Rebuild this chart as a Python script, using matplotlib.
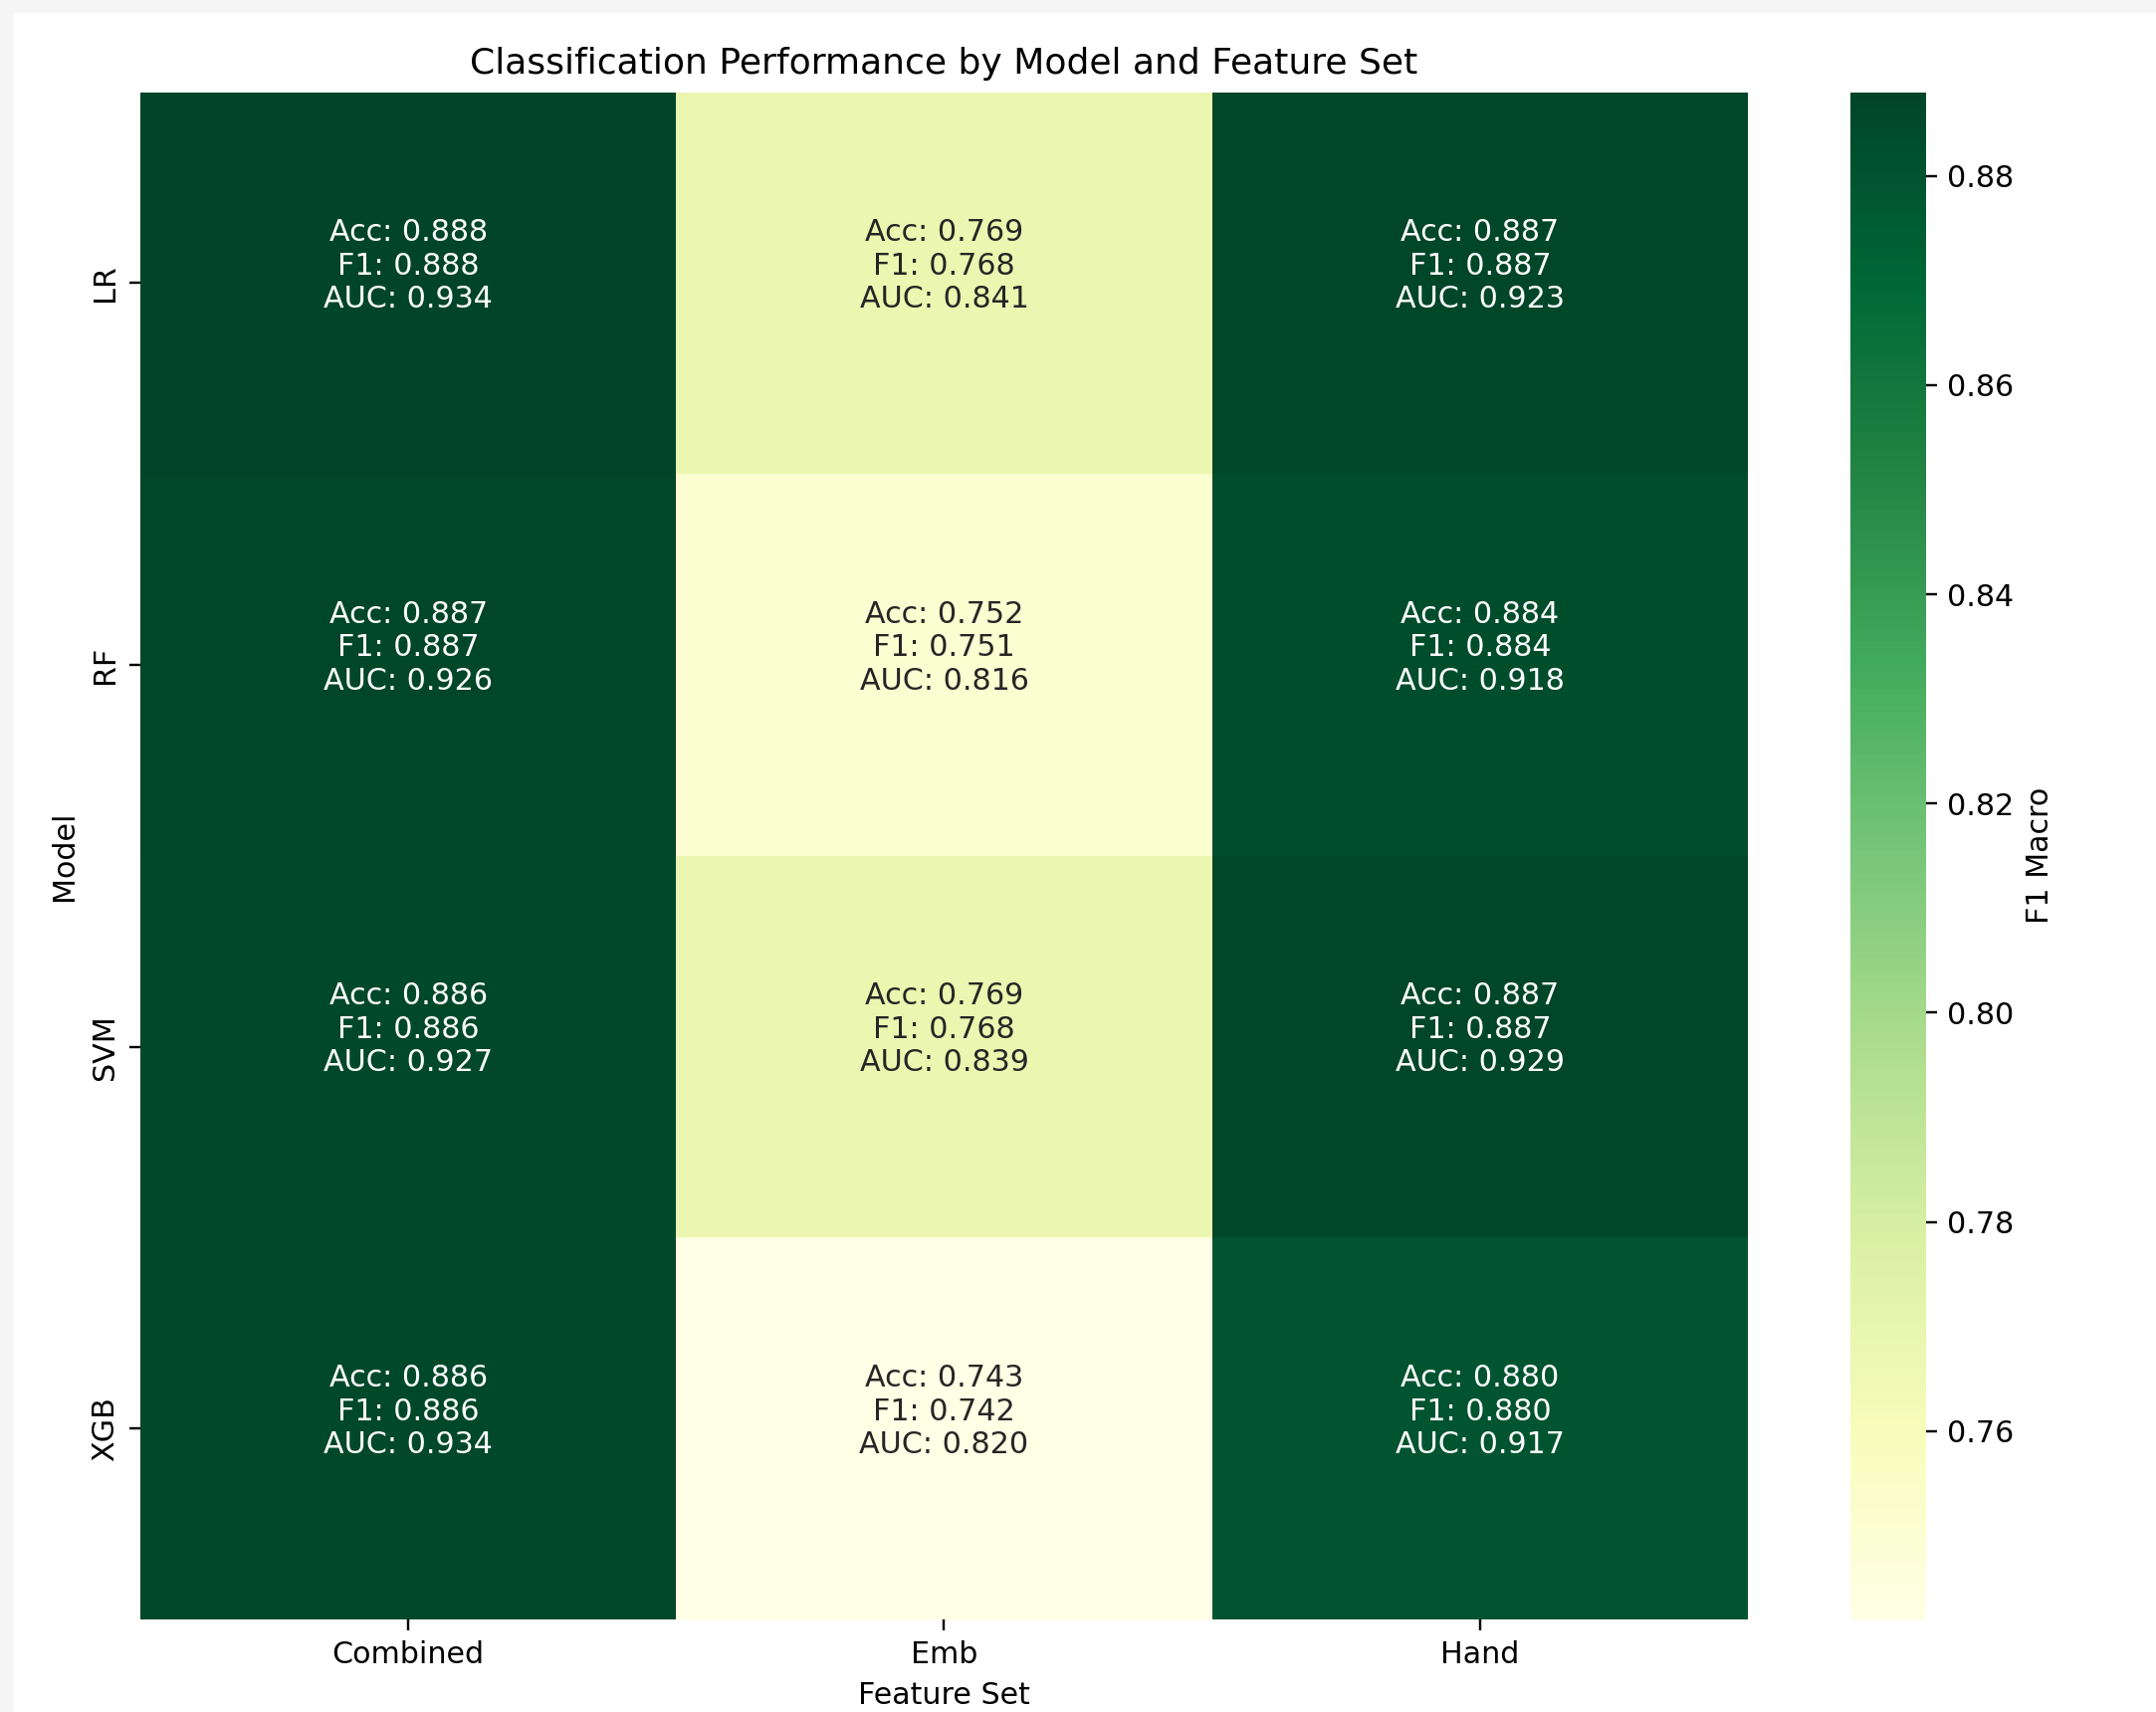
import numpy as np
import pandas as pd
import matplotlib
matplotlib.use("Agg")
import matplotlib.pyplot as plt
import seaborn as sns

models = ["LR", "RF", "SVM", "XGB"]
feature_sets = ["Combined", "Emb", "Hand"]

# rows follow `models`, columns follow `feature_sets`
acc = [
    [0.888, 0.769, 0.887],
    [0.887, 0.752, 0.884],
    [0.886, 0.769, 0.887],
    [0.886, 0.743, 0.880],
]
f1_macro = [
    [0.888, 0.768, 0.887],
    [0.887, 0.751, 0.884],
    [0.886, 0.768, 0.887],
    [0.886, 0.742, 0.880],
]
auc = [
    [0.934, 0.841, 0.923],
    [0.926, 0.816, 0.918],
    [0.927, 0.839, 0.929],
    [0.934, 0.820, 0.917],
]

f1_df = pd.DataFrame(f1_macro, index=models, columns=feature_sets)

fig = plt.figure(figsize=(10, 1720 / 216.6), dpi=216.6, facecolor="#f5f5f5")
# white page inside a thin grey frame
fig.patches.append(plt.Rectangle((14 / 2166, 0), 1, 1 - 13 / 1720,
                                 transform=fig.transFigure, facecolor="white",
                                 edgecolor="none", zorder=-1))

ax = fig.add_axes([0.0651, 0.0540, 0.7456, 0.8922])
cax = fig.add_axes([0.8583, 0.0540, 0.0351, 0.8922])

sns.heatmap(f1_df, ax=ax, cbar_ax=cax, cmap="YlGn", annot=False,
            cbar_kws={"label": "F1 Macro"})

vmin, vmax = f1_df.values.min(), f1_df.values.max()
mid = (vmin + vmax) / 2
for i in range(len(models)):
    for j in range(len(feature_sets)):
        label = f"Acc: {acc[i][j]:.3f}\nF1: {f1_macro[i][j]:.3f}\nAUC: {auc[i][j]:.3f}"
        color = "white" if f1_macro[i][j] > mid else "#262626"
        ax.text(j + 0.5, i + 0.455, label, ha="center", va="center",
                color=color, fontsize=10, linespacing=1.2)

ax.set_title("Classification Performance by Model and Feature Set", fontsize=12)
ax.set_xlabel("Feature Set")
ax.set_ylabel("Model")
cax.set_yticks([0.76, 0.78, 0.80, 0.82, 0.84, 0.86, 0.88])

fig.savefig("out.png", dpi=216.6, facecolor=fig.get_facecolor())
